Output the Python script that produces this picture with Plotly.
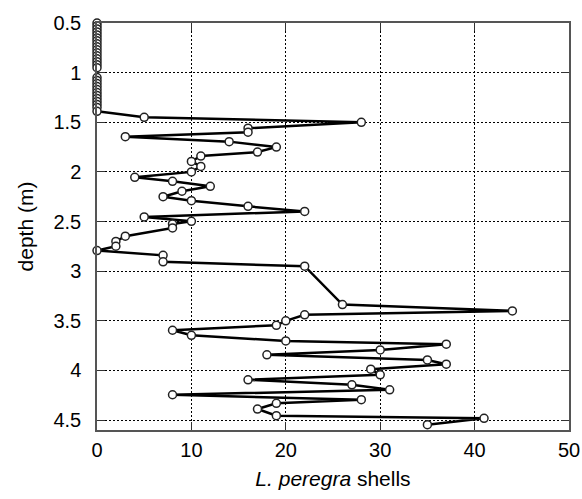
import plotly.graph_objects as go

# L. peregra shell counts (x) by depth in metres (y), in sampling order
depth_m = [0.50, 0.53, 0.56, 0.59, 0.62, 0.65, 0.68, 0.71, 0.74, 0.77,
           0.80, 0.83, 0.86, 0.89, 0.92, 0.95, 1.05, 1.08, 1.11, 1.14,
           1.17, 1.20, 1.23, 1.26, 1.29, 1.32, 1.35, 1.39,
           1.45, 1.50, 1.56, 1.60, 1.645, 1.695, 1.75, 1.80, 1.84, 1.895,
           1.945, 2.00, 2.055, 2.095, 2.145, 2.195, 2.25, 2.29, 2.347, 2.398,
           2.454, 2.498, 2.524, 2.564, 2.648, 2.70, 2.749, 2.792, 2.84, 2.906,
           2.95, 3.337, 3.40, 3.44, 3.50, 3.545, 3.595, 3.646, 3.703, 3.736,
           3.793, 3.843, 3.894, 3.937, 3.987, 4.044, 4.094, 4.145, 4.195, 4.245,
           4.295, 4.331, 4.389, 4.456, 4.482, 4.546]
shells = [0, 0, 0, 0, 0, 0, 0, 0, 0, 0,
          0, 0, 0, 0, 0, 0, 0, 0, 0, 0,
          0, 0, 0, 0, 0, 0, 0, 0,
          5, 28, 16, 16, 3, 14, 19, 17, 11, 10,
          11, 10, 4, 8, 12, 9, 7, 10, 16, 22,
          5, 10, 8, 8, 3, 2, 2, 0, 7, 7,
          22, 26, 44, 22, 20, 19, 8, 10, 20, 37,
          30, 18, 35, 37, 29, 30, 16, 27, 31, 8,
          28, 19, 17, 19, 41, 35]

x_ticks = [0, 10, 20, 30, 40, 50]
y_ticks = [0.5, 1, 1.5, 2, 2.5, 3, 3.5, 4, 4.5]
y_tick_labels = ["0.5", "1", "1.5", "2", "2.5", "3", "3.5", "4", "4.5"]

fig = go.Figure()
fig.add_trace(go.Scatter(
    x=shells, y=depth_m, mode="lines+markers",
    line=dict(color="black", width=2.5),
    marker=dict(symbol="circle", size=8, color="white",
                line=dict(color="#222222", width=1.5)),
    cliponaxis=False,
    showlegend=False,
))

axis_common = dict(
    showline=True, linecolor="#555555", linewidth=1.5, mirror="allticks",
    ticks="inside", ticklen=8, tickcolor="#333333", tickwidth=1,
    showgrid=True, gridcolor="black", gridwidth=1, griddash="2px,2px",
    zeroline=False,
    tickfont=dict(family="Liberation Sans, Arial", size=20, color="black"),
)

fig.update_xaxes(range=[0, 50], tickvals=x_ticks, **axis_common,
                 ticklabelstandoff=1,
                 title=dict(text="<i>L. peregra</i> shells",
                            font=dict(family="Liberation Sans, Arial", size=21, color="black"),
                            standoff=12))
fig.update_yaxes(range=[4.6, 0.5], tickvals=y_ticks, ticktext=y_tick_labels, **axis_common,
                 ticklabelstandoff=10,
                 title=dict(text="depth (m)",
                            font=dict(family="Liberation Sans, Arial", size=21, color="black"),
                            standoff=14))

fig.update_layout(
    width=582, height=499,
    margin=dict(l=97, r=13, t=23, b=69, autoexpand=False),
    paper_bgcolor="white", plot_bgcolor="white",
)

fig.write_html("out.html")
